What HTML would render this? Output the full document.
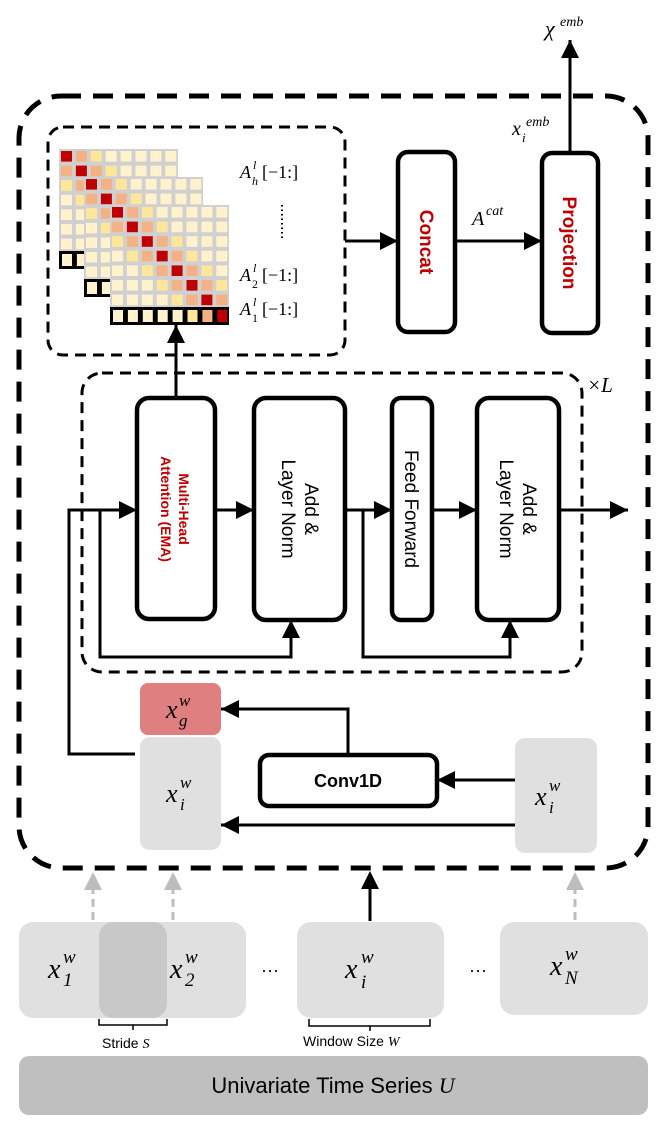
<!DOCTYPE html>
<html><head><meta charset="utf-8"><style>
html,body{margin:0;padding:0;background:#fff;}
svg{display:block;}
.m{font-family:"Liberation Serif",serif;font-style:italic;}
.n{font-family:"Liberation Serif",serif;}
.s{font-family:"Liberation Sans",sans-serif;}
</style></head><body>
<svg id="sv" width="665" height="1133" viewBox="0 0 665 1133" xmlns="http://www.w3.org/2000/svg">
<defs>
<marker id="ah" viewBox="0 0 10 10" refX="10" refY="5" markerWidth="20" markerHeight="18" markerUnits="userSpaceOnUse" orient="auto"><path d="M0,0 L10,5 L0,10 z" fill="#000"/></marker>
</defs>
<rect x="19" y="96" width="629" height="772" rx="42" fill="none" stroke="#000" stroke-width="5" stroke-dasharray="20 12"/>
<rect x="48" y="127" width="297" height="228" rx="15" fill="none" stroke="#000" stroke-width="3" stroke-dasharray="11 7"/>
<rect x="82" y="373" width="500" height="299" rx="20" fill="none" stroke="#000" stroke-width="3" stroke-dasharray="11 7"/>
<text x="587" y="392" class="m" font-size="21">×L</text>

<g id="grids"></g>

<g font-size="18">
<text x="240" y="178" class="m">A</text><text x="253" y="169" class="m" font-size="12">l</text><text x="252" y="185" class="m" font-size="12">h</text><text x="262" y="178" class="n">[−1:]</text>
<text x="240" y="281" class="m">A</text><text x="253" y="272" class="m" font-size="12">l</text><text x="252" y="288" class="n" font-size="12">2</text><text x="262" y="281" class="n">[−1:]</text>
<text x="240" y="315" class="m">A</text><text x="253" y="306" class="m" font-size="12">l</text><text x="252" y="322" class="n" font-size="12">1</text><text x="262" y="315" class="n">[−1:]</text>
</g>
<line x1="282" y1="205" x2="282" y2="240" stroke="#000" stroke-width="2" stroke-dasharray="1.5 3"/>

<rect x="398" y="152" width="57" height="180" rx="10" fill="#fff" stroke="#000" stroke-width="4.5"/>
<text transform="translate(420,242) rotate(90)" text-anchor="middle" class="s" font-size="19" font-weight="bold" fill="#c00000">Concat</text>
<rect x="542" y="153" width="56" height="180" rx="10" fill="#fff" stroke="#000" stroke-width="4.5"/>
<text transform="translate(563,243) rotate(90)" text-anchor="middle" class="s" font-size="19" font-weight="bold" fill="#c00000">Projection</text>
<line x1="345" y1="241" x2="398" y2="241" stroke="#000" stroke-width="3" marker-end="url(#ah)"/>
<line x1="455" y1="241" x2="542" y2="241" stroke="#000" stroke-width="3" marker-end="url(#ah)"/>
<text x="472" y="225" class="m" font-size="20">A</text><text x="486" y="215" class="m" font-size="14">cat</text>
<line x1="570" y1="153" x2="570" y2="40" stroke="#000" stroke-width="3" marker-end="url(#ah)"/>
<text x="545" y="36" class="m" font-size="22">χ</text><text x="560" y="26" class="m" font-size="14">emb</text>
<text x="512" y="135" class="m" font-size="20">x</text><text x="522" y="142" class="m" font-size="13">i</text><text x="526" y="126" class="m" font-size="14">emb</text>

<line x1="176" y1="398" x2="176" y2="325" stroke="#000" stroke-width="3" marker-end="url(#ah)"/>

<rect x="137" y="398" width="78" height="221" rx="12" fill="#fff" stroke="#000" stroke-width="4.5"/>
<text transform="translate(176,509) rotate(90)" text-anchor="middle" class="s" font-size="14" font-weight="bold" fill="#c00000"><tspan x="0" dy="-3">Multi-Head</tspan><tspan x="0" dy="18">Attention (EMA)</tspan></text>
<rect x="254" y="398" width="91" height="222" rx="12" fill="#fff" stroke="#000" stroke-width="4.5"/>
<text transform="translate(300,509) rotate(90)" text-anchor="middle" class="s" font-size="19"><tspan x="0" dy="-5">Add &amp;</tspan><tspan x="0" dy="23">Layer Norm</tspan></text>
<rect x="392" y="398" width="40" height="222" rx="9" fill="#fff" stroke="#000" stroke-width="4.5"/>
<text transform="translate(412,509) rotate(90)" text-anchor="middle" dy="7" class="s" font-size="19">Feed Forward</text>
<rect x="477" y="398" width="82" height="222" rx="12" fill="#fff" stroke="#000" stroke-width="4.5"/>
<text transform="translate(518,509) rotate(90)" text-anchor="middle" class="s" font-size="19"><tspan x="0" dy="-5">Add &amp;</tspan><tspan x="0" dy="23">Layer Norm</tspan></text>

<g stroke="#000" stroke-width="3" fill="none">
<polyline points="135,754 69,754 69,510 137,510" marker-end="url(#ah)"/>
<line x1="215" y1="510" x2="254" y2="510" marker-end="url(#ah)"/>
<line x1="345" y1="510" x2="392" y2="510" marker-end="url(#ah)"/>
<line x1="432" y1="510" x2="477" y2="510" marker-end="url(#ah)"/>
<line x1="559" y1="510" x2="628" y2="510" marker-end="url(#ah)"/>
<polyline points="100,510 100,657 291,657 291,620" marker-end="url(#ah)"/>
<polyline points="363,510 363,657 510,657 510,620" marker-end="url(#ah)"/>
</g>

<rect x="140" y="683" width="81" height="52" rx="8" fill="#e07f7f"/>
<text x="166" y="718" class="m" font-size="26">x</text><text x="179" y="726" class="m" font-size="17">g</text><text x="179" y="706" class="m" font-size="17">w</text>
<rect x="140" y="737" width="81" height="113" rx="10" fill="#e0e0e0"/>
<text x="166" y="802" class="m" font-size="26">x</text><text x="180" y="810" class="m" font-size="17">i</text><text x="180" y="788" class="m" font-size="17">w</text>
<rect x="515" y="738" width="82" height="115" rx="10" fill="#e0e0e0"/>
<text x="535" y="805" class="m" font-size="26">x</text><text x="549" y="813" class="m" font-size="17">i</text><text x="549" y="791" class="m" font-size="17">w</text>
<rect x="260" y="755" width="177" height="51" rx="9" fill="#fff" stroke="#000" stroke-width="4.5"/>
<text x="348" y="787" text-anchor="middle" class="s" font-size="18" font-weight="bold">Conv1D</text>
<g stroke="#000" stroke-width="3" fill="none">
<polyline points="348,755 348,709 221,709" marker-end="url(#ah)"/>
<line x1="515" y1="780" x2="437" y2="780" marker-end="url(#ah)"/>
<line x1="515" y1="825" x2="221" y2="825" marker-end="url(#ah)"/>
</g>

<g stroke="#bdbdbd" stroke-width="3" stroke-dasharray="8 5">
<line x1="93" y1="920" x2="93" y2="886"/><line x1="173" y1="920" x2="173" y2="886"/><line x1="575" y1="920" x2="575" y2="886"/>
</g>
<g fill="#bdbdbd"><path d="M84,890 L93,872 L102,890z"/><path d="M164,890 L173,872 L182,890z"/><path d="M566,890 L575,872 L584,890z"/></g>
<line x1="370" y1="921" x2="370" y2="885" stroke="#000" stroke-width="3"/>
<path d="M361,889 L370,871 L379,889z" fill="#000"/>

<rect x="19" y="922" width="148" height="96" rx="14" fill="#e0e0e0"/>
<rect x="99" y="922" width="147" height="96" rx="14" fill="#e0e0e0"/>
<rect x="99" y="922" width="68" height="96" rx="14" fill="#c8c8c8"/>
<rect x="297" y="922" width="147" height="96" rx="14" fill="#e0e0e0"/>
<rect x="500" y="922" width="148" height="93" rx="14" fill="#e0e0e0"/>
<g class="m">
<text x="48" y="978" font-size="28">x</text><text x="63" y="986" class="n" font-size="19">1</text><text x="63" y="963" font-size="19">w</text>
<text x="170" y="978" font-size="28">x</text><text x="185" y="986" class="n" font-size="19">2</text><text x="185" y="963" font-size="19">w</text>
<text x="345" y="978" font-size="28">x</text><text x="361" y="988" font-size="19">i</text><text x="361" y="963" font-size="19">w</text>
<text x="550" y="975" font-size="28">x</text><text x="565" y="984" font-size="19">N</text><text x="565" y="960" font-size="19">w</text>
</g>
<text x="270" y="976" text-anchor="middle" class="s" font-size="18">···</text>
<text x="478" y="976" text-anchor="middle" class="s" font-size="18">···</text>
<g stroke="#000" stroke-width="1.5" fill="none">
<polyline points="99,1019 99,1025 167,1025 167,1019"/><line x1="133" y1="1025" x2="133" y2="1030"/>
<polyline points="309,1019 309,1026 430,1026 430,1019"/><line x1="370" y1="1026" x2="370" y2="1031"/>
</g>
<text x="102" y="1048" class="s" font-size="14">Stride <tspan class="m">S</tspan></text>
<text x="303" y="1046" class="s" font-size="14">Window Size <tspan class="m">W</tspan></text>
<rect x="19" y="1056" width="629" height="59" rx="10" fill="#bfbfbf"/>
<text x="333" y="1093" text-anchor="middle" class="s" font-size="22">Univariate Time Series <tspan class="m">U</tspan></text>
</svg>
<script>
(function(){
var g=document.getElementById('grids'),ns='http://www.w3.org/2000/svg';
function r(x,y,w,h,f){var e=document.createElementNS(ns,'rect');e.setAttribute('x',x);e.setAttribute('y',y);e.setAttribute('width',w);e.setAttribute('height',h);e.setAttribute('fill',f);g.appendChild(e);}
var cols=['#c00000','#f4b183','#ffe699'],L='#fff2cc';
[[59,149],[84,177],[110,205]].forEach(function(o){
 var x0=o[0],y0=o[1],pw=14.9,ph=14.6;
 r(x0,y0,119,102,'#d0d0d0');
 for(var i=0;i<7;i++)for(var j=0;j<8;j++){var d=Math.abs(i-j);r(x0+j*pw+2,y0+i*ph+2,11,10.6,d<3?cols[d]:L);}
 var by=y0+102;
 r(x0,by,119,18,'#000');
 var last=[L,L,L,L,L,'#ffe699','#f4b183','#c00000'];
 for(var j=0;j<8;j++)r(x0+j*pw+3,by+3,10,12,last[j]);
});
})();
</script>
</body></html>
